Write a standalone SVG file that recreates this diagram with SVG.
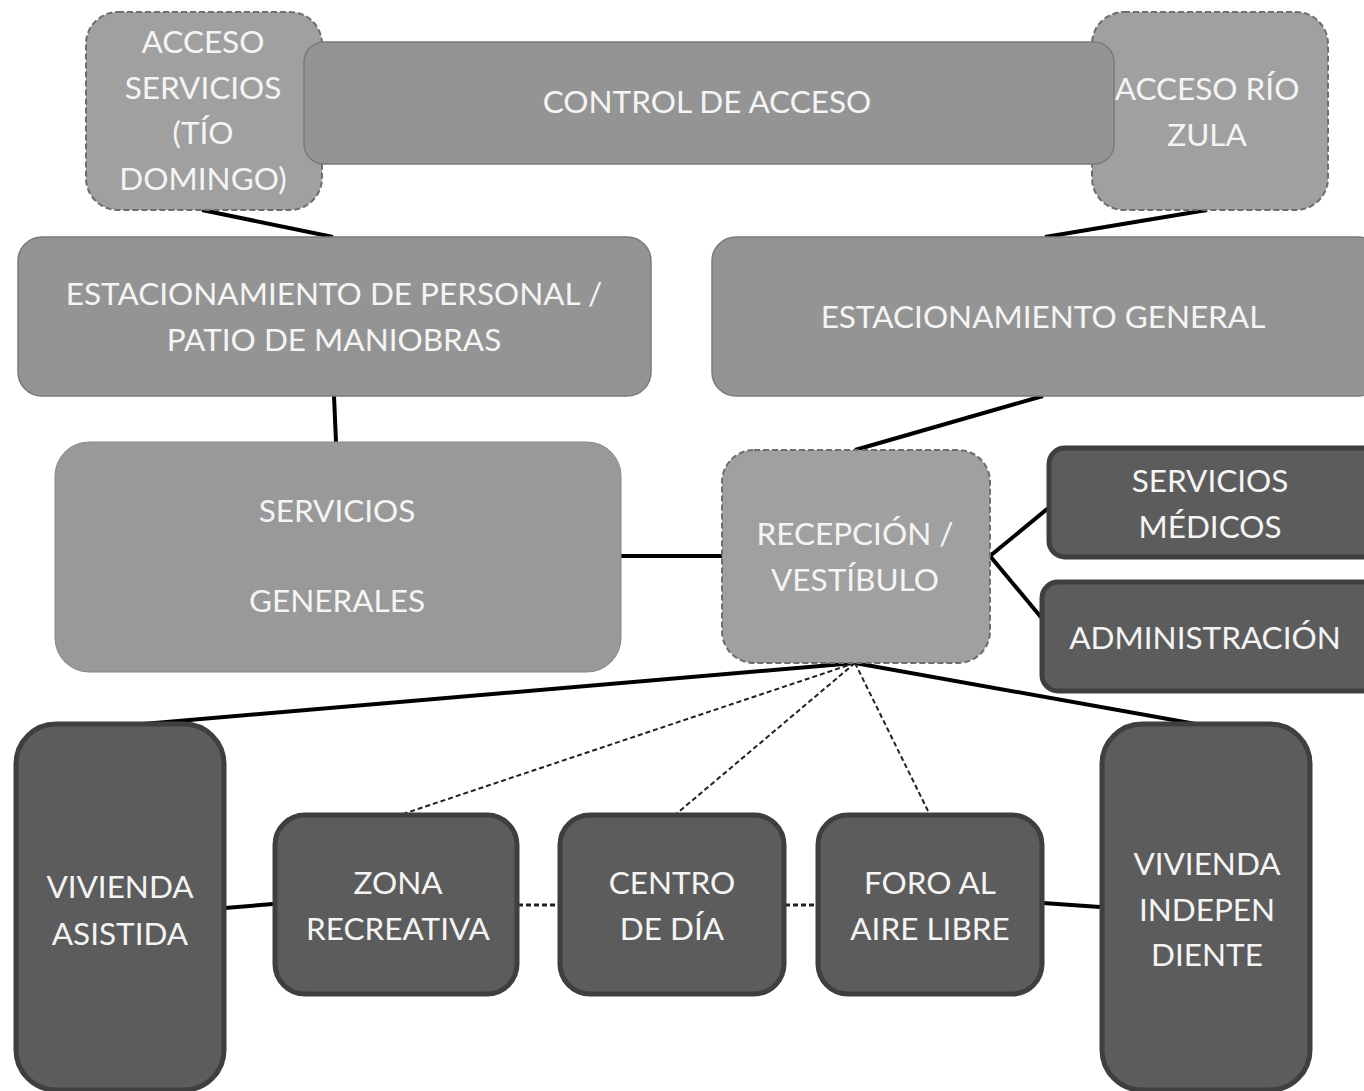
<svg xmlns="http://www.w3.org/2000/svg" width="1364" height="1091" viewBox="0 0 1364 1091">
  <style>
    text { font-family: Lato, "Open Sans", "Liberation Sans", sans-serif; font-size: 31.5px; fill: #f4f4f4; text-anchor: middle; }
    .mid { fill: #949494; stroke: #7a7a7a; stroke-width: 1.5; }
    .soft { fill: #a0a0a0; stroke: #6e6e6e; stroke-width: 2; stroke-dasharray: 6 3; }
    .dark { fill: #5c5c5c; stroke: #3f3f3f; stroke-width: 5; }
    .link { stroke: #000; stroke-width: 4; fill: none; }
    .dash { stroke: #222; stroke-width: 2; stroke-dasharray: 5 3; fill: none; }
  </style>
  <rect width="1364" height="1091" fill="#fff"/>

  <g id="connectors">
    <line class="link" x1="202" y1="210" x2="333" y2="237"/>
    <line class="link" x1="1207" y1="210" x2="1045" y2="237"/>
    <line class="link" x1="334" y1="396" x2="336" y2="442"/>
    <line class="link" x1="1043" y1="396" x2="855" y2="450"/>
    <line class="link" x1="621" y1="556" x2="722" y2="556"/>
    <line class="link" x1="990" y1="556" x2="1052" y2="505"/>
    <line class="link" x1="990" y1="556" x2="1045" y2="622"/>
    <line class="link" x1="855" y1="663" x2="120" y2="726"/>
    <line class="link" x1="855" y1="663" x2="1207" y2="726"/>
    <line class="dash" x1="855" y1="663" x2="400" y2="815"/>
    <line class="dash" x1="855" y1="663" x2="675" y2="815"/>
    <line class="dash" x1="855" y1="663" x2="930" y2="815"/>
    <line class="link" x1="225" y1="908" x2="273" y2="904"/>
    <line class="dash" x1="518" y1="905" x2="558" y2="905" style="stroke-width:3"/>
    <line class="dash" x1="785" y1="905" x2="817" y2="905" style="stroke-width:3"/>
    <line class="link" x1="1043" y1="903" x2="1100" y2="907"/>
  </g>

  <g id="acceso-servicios">
    <rect class="soft" x="86" y="12" width="236" height="198" rx="32"/>
    <text x="203" y="53">ACCESO</text>
    <text x="203" y="99">SERVICIOS</text>
    <text x="203" y="144">(TÍO</text>
    <text x="203" y="190">DOMINGO)</text>
  </g>
  <g id="acceso-rio-zula">
    <rect class="soft" x="1092" y="12" width="236" height="198" rx="32"/>
    <text x="1207" y="100">ACCESO RÍO</text>
    <text x="1207" y="146">ZULA</text>
  </g>
  <g id="control-acceso">
    <rect class="mid" x="304" y="42" width="810" height="122" rx="20"/>
    <text x="707" y="113">CONTROL DE ACCESO</text>
  </g>

  <g id="estacionamiento-personal">
    <rect class="mid" x="18" y="237" width="633" height="159" rx="24"/>
    <text x="334" y="305">ESTACIONAMIENTO DE PERSONAL /</text>
    <text x="334" y="351">PATIO DE MANIOBRAS</text>
  </g>
  <g id="estacionamiento-general">
    <rect class="mid" x="712" y="237" width="670" height="159" rx="24"/>
    <text x="1043" y="328">ESTACIONAMIENTO GENERAL</text>
  </g>

  <g id="servicios-generales">
    <rect x="55" y="442" width="566" height="230" rx="34" fill="#999999" stroke="#888" stroke-width="1"/>
    <text x="337" y="522">SERVICIOS</text>
    <text x="337" y="612">GENERALES</text>
  </g>
  <g id="recepcion">
    <rect class="soft" x="722" y="450" width="268" height="213" rx="32"/>
    <text x="855" y="545">RECEPCIÓN /</text>
    <text x="855" y="591">VESTÍBULO</text>
  </g>
  <g id="servicios-medicos">
    <rect class="dark" x="1049" y="448" width="330" height="109" rx="16"/>
    <text x="1210" y="492">SERVICIOS</text>
    <text x="1210" y="538">MÉDICOS</text>
  </g>
  <g id="administracion">
    <rect class="dark" x="1042" y="582" width="340" height="109" rx="16"/>
    <text x="1205" y="649">ADMINISTRACIÓN</text>
  </g>

  <g id="vivienda-asistida">
    <rect class="dark" x="16" y="724" width="208" height="366" rx="40"/>
    <text x="120" y="898">VIVIENDA</text>
    <text x="120" y="945">ASISTIDA</text>
  </g>
  <g id="zona-recreativa">
    <rect class="dark" x="275" y="815" width="242" height="179" rx="30"/>
    <text x="398" y="894">ZONA</text>
    <text x="398" y="940">RECREATIVA</text>
  </g>
  <g id="centro-dia">
    <rect class="dark" x="560" y="815" width="224" height="179" rx="30"/>
    <text x="672" y="894">CENTRO</text>
    <text x="672" y="940">DE DÍA</text>
  </g>
  <g id="foro-aire-libre">
    <rect class="dark" x="818" y="815" width="224" height="179" rx="30"/>
    <text x="930" y="894">FORO AL</text>
    <text x="930" y="940">AIRE LIBRE</text>
  </g>
  <g id="vivienda-independiente">
    <rect class="dark" x="1102" y="724" width="208" height="366" rx="40"/>
    <text x="1207" y="875">VIVIENDA</text>
    <text x="1207" y="921">INDEPEN</text>
    <text x="1207" y="966">DIENTE</text>
  </g>
</svg>
